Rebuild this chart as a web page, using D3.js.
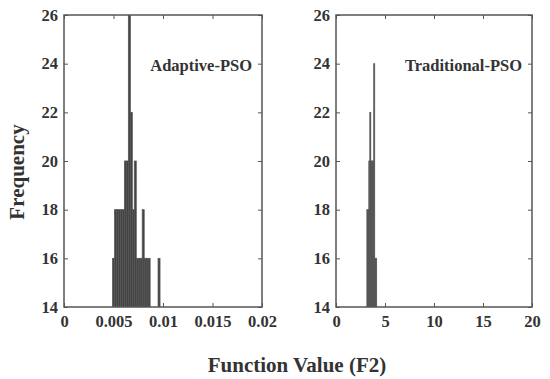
<!DOCTYPE html>
<html><head><meta charset="utf-8">
<script src="https://cdn.jsdelivr.net/npm/d3@7"></script>
<style>body{margin:0;background:#fff}svg{display:block}text{font-family:"Liberation Serif","Times New Roman",serif;font-weight:bold;fill:#333}</style>
</head><body><svg id="c" width="550" height="379"></svg>
<script>
const yTicks = [14, 16, 18, 20, 22, 24, 26];
const adaptiveTicks = [0, 0.005, 0.01, 0.015, 0.02];
const adaptiveTickLabels = ["0", "0.005", "0.01", "0.015", "0.02"];
const traditionalTicks = [0, 5, 10, 15, 20];
const traditionalTickLabels = ["0", "5", "10", "15", "20"];
// histogram bins: centers and frequencies
const adaptiveBins = [0.0050, 0.0052, 0.0054, 0.0056, 0.0058, 0.0060, 0.0062, 0.0064, 0.0066, 0.0068, 0.0070, 0.0072, 0.0074, 0.0076, 0.0078, 0.0080, 0.0082, 0.0084, 0.0086, 0.0096];
const adaptiveFreq = [16, 18, 18, 18, 18, 18, 20, 20, 26, 22, 18, 20, 16, 16, 16, 18, 16, 16, 16, 16];
const adaptiveBinWidth = 0.0002;
const traditionalBins = [3.2, 3.3, 3.4, 3.5, 3.6, 3.7, 3.8, 3.9, 4.0, 4.1];
const traditionalFreq = [18, 18, 20, 22, 20, 20, 20, 24, 16, 16];
const traditionalBinWidth = 0.1;

const svg = d3.select("#c");
const plotTop = 15, plotBottom = 307;
const y = d3.scaleLinear().domain([14, 26]).range([plotBottom, plotTop]);

function panel(x0, x1, domain, ticks, labels, bins, freq, bw, title) {
  const x = d3.scaleLinear().domain(domain).range([x0, x1]);
  const g = svg.append("g");
  const clipId = "clip" + Math.round(x0);
  g.append("clipPath").attr("id", clipId).append("rect")
    .attr("x", x0).attr("y", plotTop).attr("width", x1 - x0).attr("height", plotBottom - plotTop);
  const data = bins.map((b, i) => ({b, f: freq[i]}));
  g.append("g").attr("clip-path", `url(#${clipId})`).selectAll("rect").data(data).join("rect")
    .attr("x", d => x(d.b - bw / 2))
    .attr("width", d => Math.max(0.6, x(d.b + bw / 2) - x(d.b - bw / 2)))
    .attr("y", d => y(d.f))
    .attr("height", d => plotBottom - y(d.f))
    .attr("fill", "#2e2e2e").attr("fill-opacity", 0.9)
    .attr("stroke", "#5a5a5a").attr("stroke-width", 0.8);
  const ax = d3.axisBottom(x).tickValues(ticks).tickFormat((d, i) => labels[i]).tickSize(-4).tickPadding(8);
  const axT = d3.axisTop(x).tickValues(ticks).tickFormat("").tickSize(-4);
  const ay = d3.axisLeft(y).tickValues(yTicks).tickSize(-4).tickPadding(6);
  const ayR = d3.axisRight(y).tickValues(yTicks).tickFormat("").tickSize(-4);
  const styl = s => {
    s.select(".domain").remove();
    s.selectAll("line").attr("stroke", "#555").attr("stroke-width", 1);
    s.selectAll("text").style("font-size", "16.5px").attr("fill", "#333");
  };
  g.append("g").attr("transform", `translate(0,${plotBottom})`).call(ax).call(styl);
  g.append("g").attr("transform", `translate(0,${plotTop})`).call(axT).call(styl);
  g.append("g").attr("transform", `translate(${x0},0)`).call(ay).call(styl);
  g.append("g").attr("transform", `translate(${x1},0)`).call(ayR).call(styl);
  g.append("rect").attr("x", x0).attr("y", plotTop).attr("width", x1 - x0).attr("height", plotBottom - plotTop)
    .attr("fill", "none").attr("stroke", "#555").attr("stroke-width", 1.5);
  g.append("text").attr("x", x1 - 10).attr("y", 71).attr("text-anchor", "end")
    .style("font-size", "16.5px").text(title);
}
panel(64, 262, [0, 0.02], adaptiveTicks, adaptiveTickLabels, adaptiveBins, adaptiveFreq, adaptiveBinWidth, "Adaptive-PSO");
panel(336, 532, [0, 20], traditionalTicks, traditionalTickLabels, traditionalBins, traditionalFreq, traditionalBinWidth, "Traditional-PSO");

svg.append("text").attr("transform", "translate(24,172) rotate(-90)").attr("text-anchor", "middle")
  .style("font-size", "21px").text("Frequency");
svg.append("text").attr("x", 297).attr("y", 372).attr("text-anchor", "middle")
  .style("font-size", "21px").text("Function Value (F2)");
</script></body></html>
